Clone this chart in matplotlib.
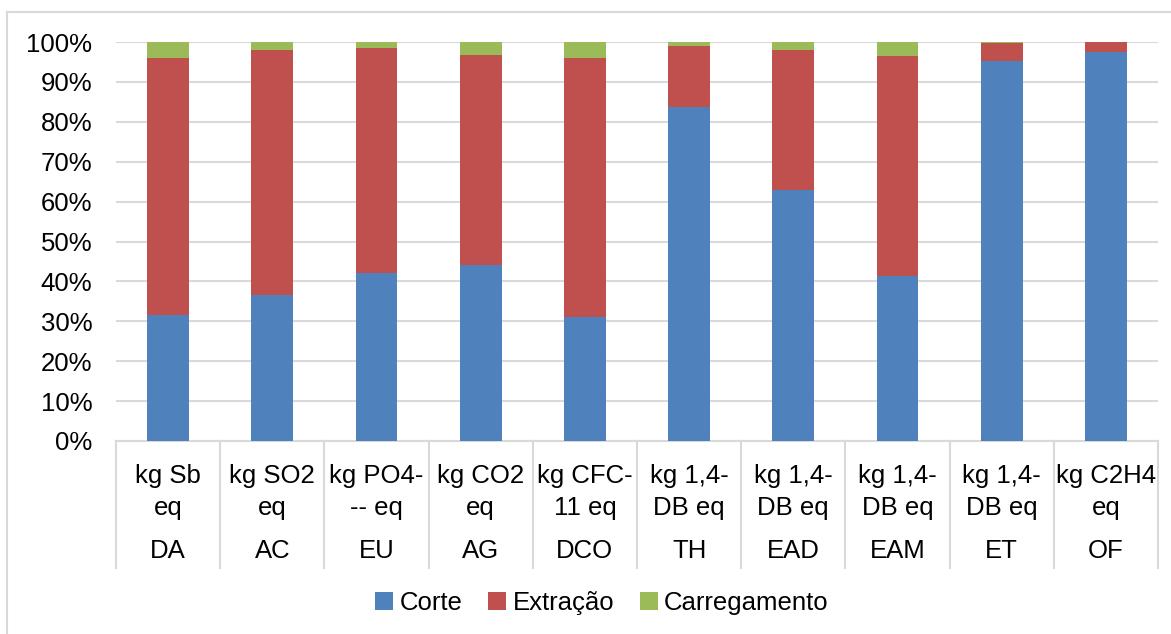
import matplotlib
matplotlib.use("Agg")
import matplotlib.pyplot as plt
from matplotlib.lines import Line2D
from matplotlib.patches import Patch
import numpy as np

categories = ["DA", "AC", "EU", "AG", "DCO", "TH", "EAD", "EAM", "ET", "OF"]
units = ["kg Sb\neq", "kg SO2\neq", "kg PO4-\n-- eq", "kg CO2\neq", "kg CFC-\n11 eq",
         "kg 1,4-\nDB eq", "kg 1,4-\nDB eq", "kg 1,4-\nDB eq", "kg 1,4-\nDB eq", "kg C2H4\neq"]
corte = [31.6, 36.6, 42.1, 44.1, 31.1, 83.6, 62.9, 41.3, 95.2, 97.4]
extracao = [64.4, 61.3, 56.4, 52.6, 64.9, 15.5, 35.0, 55.3, 4.5, 2.5]
carregamento = [4.0, 2.1, 1.5, 3.3, 4.0, 0.9, 2.1, 3.4, 0.3, 0.1]
series_names = ["Corte", "Extração", "Carregamento"]
colors = ["#4F81BD", "#C0504D", "#9BBB59"]

plt.rcParams['font.family'] = ['Liberation Sans', 'DejaVu Sans']
FS = 18.5
W, H = 1171, 634
fig = plt.figure(figsize=(W / 100, H / 100), dpi=100)
ax = fig.add_axes([116 / W, 1 - 441 / H, (1158 - 116) / W, (441 - 42) / H])

x = np.arange(len(categories))
bottom = np.zeros(len(categories))
for vals, name, c in zip([corte, extracao, carregamento], series_names, colors):
    ax.bar(x, vals, bottom=bottom, width=0.4, color=c, label=name, zorder=3)
    bottom += np.array(vals)

ax.set_xlim(-0.5, len(categories) - 0.5)
ax.set_ylim(0, 100)
ax.set_yticks(np.arange(0, 101, 10))
ax.set_yticklabels([f"{v}%" for v in range(0, 101, 10)], fontsize=FS)
ax.tick_params(axis='y', length=0, pad=17)
ax.set_xticks([])
ax.yaxis.grid(True, color="#D9D9D9", linewidth=1.5, zorder=0)
for s in ["top", "right", "left"]:
    ax.spines[s].set_visible(False)
ax.spines["bottom"].set_color("#D9D9D9")
ax.spines["bottom"].set_linewidth(1.5)

trans = ax.get_xaxis_transform()
ah = 441 - 42
for i, (u, c) in enumerate(zip(units, categories)):
    ax.text(i, -(492 - 441) / ah, u, transform=trans, ha='center', va='center',
            fontsize=FS, linespacing=1.38, clip_on=False)
    ax.text(i, -(551 - 441) / ah, c, transform=trans, ha='center', va='center',
            fontsize=FS, clip_on=False)
for b in np.arange(-0.5, len(categories), 1.0):
    ax.add_line(Line2D([b, b], [0, -(568 - 441) / ah], transform=trans,
                       color="#D9D9D9", linewidth=1.5, clip_on=False))

handles = [Patch(facecolor=c, label=n) for c, n in zip(colors, series_names)]
fig.legend(handles=handles, loc='center', bbox_to_anchor=(602 / W, 1 - 603 / H),
           ncol=3, frameon=False, fontsize=FS, handlelength=0.7, handleheight=0.7,
           handletextpad=0.25, columnspacing=1.0)

# chart border
fig.add_artist(Line2D([7 / W, 1], [1 - 12 / H, 1 - 12 / H], transform=fig.transFigure,
                      color="#D9D9D9", linewidth=1.5))
fig.add_artist(Line2D([7 / W, 7 / W], [0, 1 - 12 / H], transform=fig.transFigure,
                      color="#D9D9D9", linewidth=1.5))

fig.savefig("out.png", dpi=100)
